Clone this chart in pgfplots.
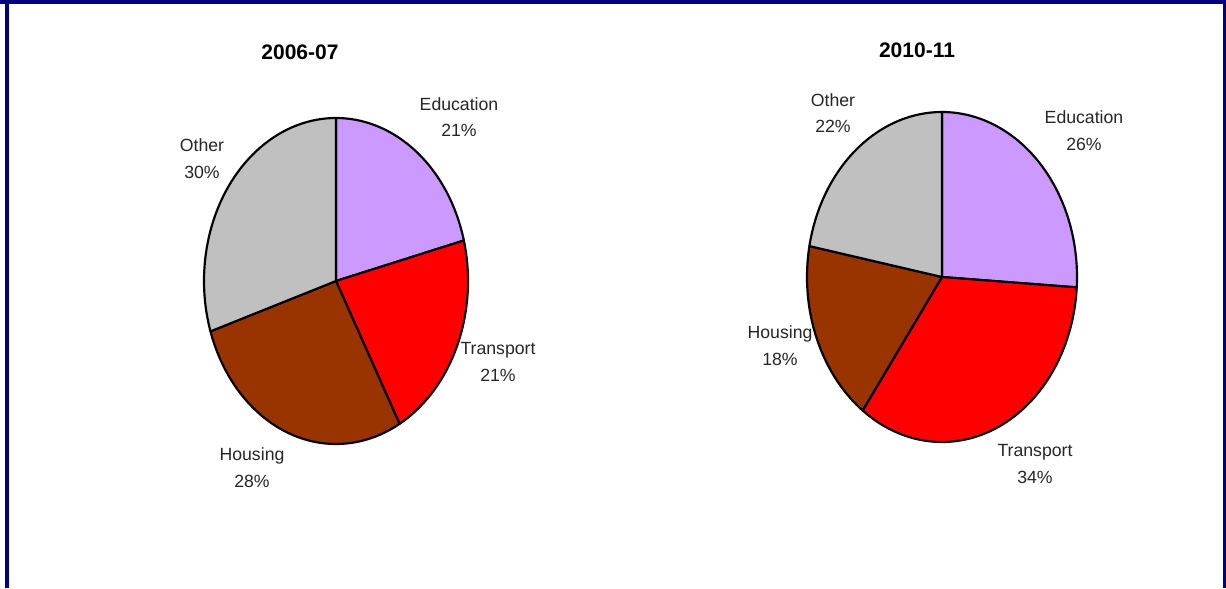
\documentclass[border=0pt]{standalone}
\usepackage{pgfplots}
\pgfplotsset{compat=1.18}
\usepackage{fontspec}
\setmainfont{Liberation Sans}
\definecolor{navyb}{RGB}{0,0,128}
\definecolor{edu}{RGB}{204,153,255}
\definecolor{tra}{RGB}{255,0,0}
\definecolor{hou}{RGB}{153,51,0}
\definecolor{oth}{RGB}{192,192,192}
% shares (%) in order clockwise from 12 o'clock: Education, Transport, Housing, Other
\def\cum{0}
\newcommand\slice[6]{% cx, cy, rx, ry, pct, colour
  \pgfmathsetmacro\angB{90-3.6*\cum}%
  \pgfmathsetmacro\angA{90-3.6*(\cum+#5)}%
  \edef\temp{\noexpand\addplot[fill=#6, draw=black, line width=1.3pt, line join=round, domain=\angA:\angB, samples=100, variable=\noexpand\t] ({#1+#3*cos(\noexpand\t)},{#2+#4*sin(\noexpand\t)}) -- (#1,#2) -- cycle;}%
  \temp
  \pgfmathsetmacro\newcum{\cum+#5}%
  \xdef\cum{\newcum}%
}
\tikzset{lbl/.style={font=\fontsize{10.6}{16}\selectfont, align=center, text=black!85}}
\begin{document}
\begin{tikzpicture}[x=0.6pt,y=0.6pt]
\begin{axis}[
  at={(0,0)}, anchor=south west,
  width=735.6pt, height=352.8pt, scale only axis,
  xmin=0, xmax=1226, ymin=0, ymax=588,
  hide axis, clip=false,
]
% frame
\fill[navyb] (0,584) rectangle (1226,588);
\fill[navyb] (5,0) rectangle (8.5,588);
\fill[navyb] (1223,0) rectangle (1226,588);
% left pie 2006-07
\gdef\cum{0}
\slice{336}{307}{132}{163}{21}{edu}
\slice{336}{307}{132}{163}{21}{tra}
\slice{336}{307}{132}{163}{28}{hou}
\slice{336}{307}{132}{163}{30}{oth}
% right pie 2010-11
\gdef\cum{0}
\slice{942}{311}{135}{165}{26}{edu}
\slice{942}{311}{135}{165}{34}{tra}
\slice{942}{311}{135}{165}{18}{hou}
\slice{942}{311}{135}{165}{22}{oth}
% titles
\node[font=\fontsize{12.6}{14}\selectfont\bfseries, text=black] at (300,536) {2006-07};
\node[font=\fontsize{12.6}{14}\selectfont\bfseries, text=black] at (917,538) {2010-11};
% labels left
\node[lbl] at (459,471) {Education\\21\%};
\node[lbl] at (498,226) {Transport\\21\%};
\node[lbl] at (252,120) {Housing\\28\%};
\node[lbl] at (202,429) {Other\\30\%};
% labels right
\node[lbl] at (1084,457) {Education\\26\%};
\node[lbl] at (1035,124) {Transport\\34\%};
\node[lbl] at (780,242) {Housing\\18\%};
\node[lbl] at (833,475) {Other\\22\%};
\end{axis}
\end{tikzpicture}
\end{document}
